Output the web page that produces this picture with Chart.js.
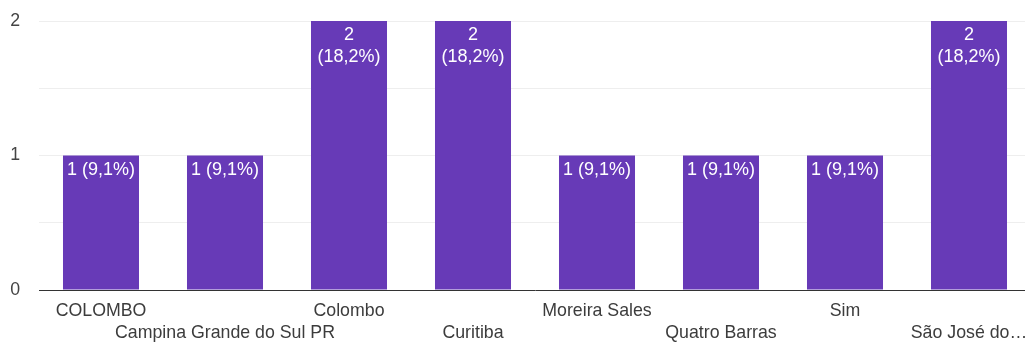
<!DOCTYPE html>
<html>
<head>
<meta charset="utf-8">
<script src="https://cdn.jsdelivr.net/npm/chart.js@4"></script>
<style>
  html, body { margin: 0; padding: 0; background: #fff; overflow: hidden; }
  #wrap { position: absolute; left: 0; top: 0; width: 1031px; height: 342px; }
</style>
</head>
<body>
<div id="wrap"><canvas id="respostas" width="1031" height="342"></canvas></div>
<script>
// respostas por cidade
const categories = ['COLOMBO', 'Campina Grande do Sul PR', 'Colombo', 'Curitiba',
                    'Moreira Sales', 'Quatro Barras', 'Sim', 'São José do…'];
const counts = [1, 1, 2, 2, 1, 1, 1, 2];
const yTicks = [0, 1, 2];

const FONT = '"Liberation Sans", Arial, sans-serif';
const total = counts.reduce((a, b) => a + b, 0);

function pct(v) {
    return (v / total * 100).toFixed(1).replace('.', ',') + '%';
}

// rótulo branco dentro da barra; quebra em duas linhas quando não cabe
const barLabels = {
    id: 'barLabels',
    afterDatasetsDraw(chart) {
        const ctx = chart.ctx;
        const meta = chart.getDatasetMeta(0);
        ctx.save();
        ctx.font = '18px ' + FONT;
        ctx.fillStyle = '#ffffff';
        ctx.textAlign = 'center';
        ctx.textBaseline = 'middle';
        meta.data.forEach((bar, i) => {
            const v = counts[i];
            const one = v + ' (' + pct(v) + ')';
            if (ctx.measureText(one).width <= bar.width - 4) {
                ctx.fillText(one, bar.x, bar.y + 15);
            } else {
                ctx.fillText(String(v), bar.x, bar.y + 14);
                ctx.fillText('(' + pct(v) + ')', bar.x, bar.y + 36);
            }
        });
        ctx.restore();
    }
};

new Chart(document.getElementById('respostas'), {
    type: 'bar',
    data: {
        labels: categories.map((c, i) => i % 2 === 0 ? [c, ''] : ['', c]),
        datasets: [{
            data: counts,
            backgroundColor: '#673ab7',
            categoryPercentage: 1,
            barPercentage: 0.613
        }]
    },
    options: {
        responsive: false,
        animation: false,
        devicePixelRatio: 1,
        layout: { padding: { top: 21, right: 0, left: 0, bottom: 0 } },
        plugins: { legend: { display: false }, tooltip: { enabled: false } },
        scales: {
            x: {
                afterFit(scale) {
                    scale.height = 52;
                    scale.paddingLeft = 0;
                    scale.paddingRight = 0;
                },
                grid: { display: false, drawTicks: false },
                border: { color: '#333333', width: 1 },
                ticks: {
                    autoSkip: false,
                    maxRotation: 0,
                    padding: 10,
                    color: '#3c3c3c',
                    font: { family: FONT, size: 17.75, lineHeight: 1.26 }
                }
            },
            y: {
                min: 0,
                max: 2,
                afterFit(scale) {
                    scale.width = 39;
                    scale.paddingTop = 0;
                    scale.paddingBottom = 0;
                },
                afterBuildTicks(scale) {
                    scale.ticks = [0, 0.5, 1, 1.5, 2].map(v => ({ value: v }));
                },
                border: { display: false },
                grid: {
                    drawTicks: false,
                    color: ctx => ctx.tick && ctx.tick.value === 0 ? 'rgba(0,0,0,0)' : '#eeeeee'
                },
                ticks: {
                    padding: 19,
                    color: '#444444',
                    font: { family: FONT, size: 17.75 },
                    callback: v => yTicks.includes(v) ? String(v) : ''
                }
            }
        }
    },
    plugins: [barLabels]
});
</script>
</body>
</html>
